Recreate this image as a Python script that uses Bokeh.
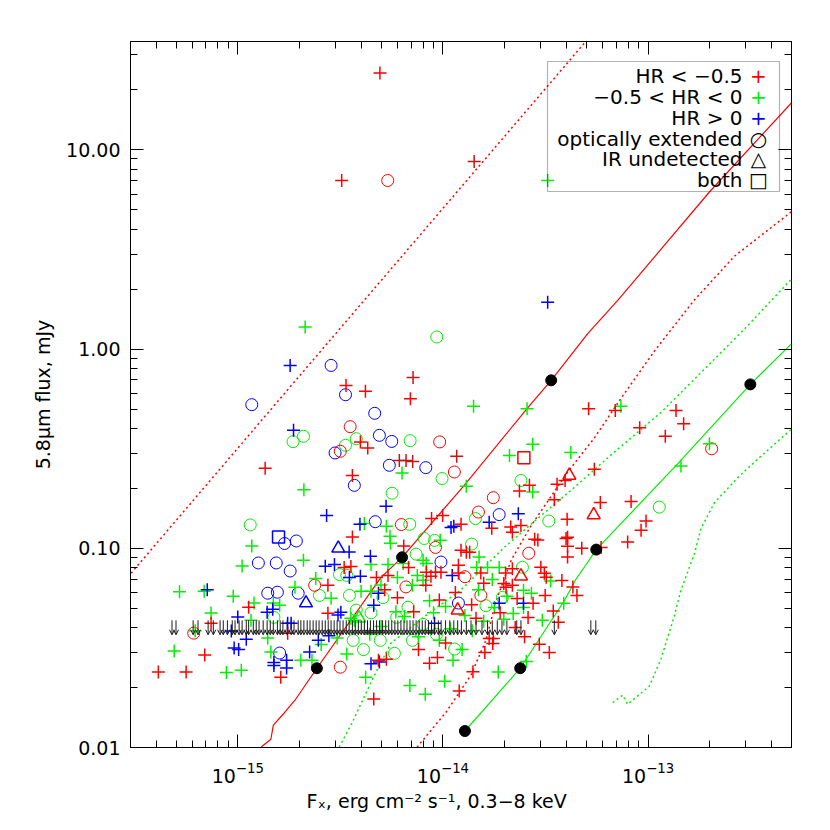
from bokeh.plotting import figure
from bokeh.models import (ColumnDataSource, LogAxis, FixedTicker, CustomJSTickFormatter,
                          LogTickFormatter, Label, BoxAnnotation, Title, Arrow, OpenHead)
from bokeh.embed import file_html
from bokeh.resources import INLINE
import numpy as np

FONT = "DejaVu Sans"
XU = 1e-15  # x values below are in units of 1e-15 erg cm^-2 s^-1

# ---------------- data (x in 1e-15 erg/cm2/s, y in mJy) ----------------
red_plus_x = [4.93, 3.21, 3.37, 4.19, 6.94, 1.36, 3.62, 3.96, 4.30, 3.62, 6.44, 26.4, 23.6, 36.0,
              39.4, 34.9, 54.7, 40.3, 58.5, 82.6, 97.7, 92.4, 79.5, 51.3, 69.2, 136.8, 149, 91.0,
              121.3, 40.5, 40.5, 40.5, 47.5, 59, 12.25, 8.8, 9.97, 17.3, 21.4, 21.8, 24.0, 28.0,
              29.0, 39.8, 21.8, 30.0, 31.2, 31.9, 19.8, 20.3, 15.3, 15.8, 11.9, 12.25, 13.0, 13.5,
              8.74, 9.2, 8.25, 6.8, 8.3, 9.78, 11.9, 20.2, 21.8, 3.3, 3.56, 4.74, 5.4, 2.75, 1.13,
              2.75, 0.741, 1.75, 0.69, 0.56, 0.41, 1.62, 4.85, 5.3, 9.4, 16.8, 17.5, 17.6, 12.0,
              4.6, 16.0, 14.0, 25.0, 27.5, 31.5, 34.5, 36.5, 26.0, 22.5, 29.5, 33.0, 45.0, 43.0,
              38.0, 11.5, 9.6, 13.8, 7.2, 6.0, 5.2, 10.3, 7.6, 8.6, 14.5, 19.0, 23.0]
red_plus_y = [24.3, 7.02, 0.657, 0.614, 0.564, 0.252, 0.232, 0.342, 0.319, 0.114, 0.1027, 0.207,
              0.194, 0.2095, 0.219, 0.1755, 0.249, 0.14, 0.1696, 0.172, 0.137, 0.1231, 0.1075,
              0.502, 0.492, 0.492, 0.422, 0.403, 0.365, 0.1136, 0.1023, 0.0905, 0.100, 0.101,
              0.132, 0.141, 0.146, 0.126, 0.128, 0.1205, 0.130, 0.111, 0.110, 0.112, 0.079,
              0.0803, 0.075, 0.0716, 0.0665, 0.0637, 0.0751, 0.0668, 0.0821, 0.0977, 0.0955,
              0.0955, 0.0723, 0.0758, 0.0652, 0.080, 0.0759, 0.0759, 0.0752, 0.0752, 0.0652,
              0.080, 0.081, 0.0714, 0.0731, 0.0652, 0.0506, 0.0472, 0.0421, 0.0375, 0.0291,
              0.0239, 0.0239, 0.0225, 0.0274, 0.0277, 0.0283, 0.0353, 0.0333, 0.0353, 0.0192,
              0.0175, 0.030, 0.024, 0.036, 0.053, 0.058, 0.0485, 0.0425, 0.045, 0.040, 0.033,
              0.030, 0.058, 0.064, 0.069, 0.060, 0.055, 0.052, 0.048, 0.0565, 0.062, 0.0335,
              0.031, 0.0265, 0.0445, 0.0475, 0.056]

dkred_plus_x = [14.2, 11.67, 7.15, 6.13, 6.61, 7.12]
dkred_plus_y = [8.75, 0.290, 0.72, 0.276, 0.276, 0.273]

green_plus_x = [32.4, 2.13, 73.7, 14.1, 25.7, 27.4, 21.1, 42, 6.32, 13.0, 27.4, 199, 144.6, 2.10,
                4.14, 5.3, 5.52, 5.55, 1.17, 2.09, 4.46, 5.4, 8.0, 8.3, 9.7, 15.0, 17.4, 6.4, 14.6,
                16.5, 18.8, 24.7, 24.7, 6.0, 7.5, 8.0, 3.99, 4.46, 4.99, 7.1, 0.686, 1.2, 1.49, 1.6,
                2.85, 1.16, 0.741, 3.56, 3.7, 1.4, 1.45, 2.03, 2.3, 1.04, 11.2, 18.6, 38.8, 8.6,
                10.3, 12.8, 13.9, 10.9, 9.0, 5.9, 6.5, 7.6, 9.6, 12.4, 15.8, 17.8, 20.5, 22.0, 27.0,
                30.5, 33.5, 3.05, 2.55, 3.4, 4.2, 6.9, 8.2, 10.2, 0.49, 0.52, 0.62, 0.95, 0.88, 1.9,
                2.4, 1.05, 14.9, 19.8, 5.0, 4.4, 25.5]
green_plus_y = [7.02, 1.29, 0.516, 0.516, 0.502, 0.333, 0.292, 0.303, 0.239, 0.205, 0.1916, 0.335,
                0.259, 0.197, 0.133, 0.129, 0.115, 0.106, 0.1027, 0.0871, 0.083, 0.083, 0.0871,
                0.084, 0.1096, 0.0905, 0.0698, 0.084, 0.080, 0.080, 0.080, 0.0616, 0.0504, 0.0714,
                0.0731, 0.0691, 0.0609, 0.0609, 0.0654, 0.0652, 0.0609, 0.0531, 0.0531, 0.0518,
                0.0561, 0.0435, 0.0474, 0.0446, 0.0435, 0.0355, 0.0302, 0.0274, 0.0274, 0.0244,
                0.0274, 0.0239, 0.0530, 0.0545, 0.051, 0.046, 0.0385, 0.0395, 0.0475, 0.048,
                0.0455, 0.036, 0.0345, 0.031, 0.043, 0.0505, 0.0575, 0.047, 0.0595, 0.0435, 0.0685,
                0.0355, 0.0329, 0.0295, 0.0225, 0.0205, 0.0185, 0.0215, 0.0305, 0.0605, 0.0385,
                0.0575, 0.0238, 0.0637, 0.0705, 0.0815, 0.062, 0.044, 0.0405, 0.037, 0.027]

blue_plus_x = [32.4, 1.80, 1.87, 5.28, 2.71, 3.94, 3.49, 2.67, 2.96, 4.43, 10.95, 11.3, 16.8, 23.3,
               11.1, 3.5, 3.96, 4.85, 4.6, 18.8, 24.7, 1.39, 1.48, 3.18, 3.08, 1.75, 1.82, 1.0, 9.1,
               0.93, 1.1, 0.96, 1.01, 2.24, 1.5, 1.5, 1.73, 1.73, 2.47, 2.78, 4.46, 4.9, 0.71]
blue_plus_y = [1.72, 0.828, 0.391, 0.1625, 0.146, 0.132, 0.0958, 0.0813, 0.0829, 0.0912, 0.127,
               0.129, 0.135, 0.149, 0.0731, 0.0714, 0.0723, 0.0595, 0.0518, 0.0530, 0.0530, 0.0478,
               0.0495, 0.0478, 0.0462, 0.0421, 0.0421, 0.0452, 0.0421, 0.0384, 0.0349, 0.0316,
               0.031, 0.0302, 0.0267, 0.0258, 0.0274, 0.0251, 0.0345, 0.0364, 0.0263, 0.0269,
               0.062]

red_circ_x = [5.38, 3.53, 3.16, 9.64, 11.37, 6.27, 17.6, 14.9, 26.2, 15.3, 2.37, 0.61, 3.16, 204,
              6.6, 12.8, 9.2]
red_circ_y = [7.02, 0.408, 0.307, 0.342, 0.2415, 0.1316, 0.1795, 0.152, 0.0944, 0.058, 0.0652,
              0.0375, 0.0253, 0.316, 0.064, 0.072, 0.101]

green_circ_x = [9.33, 2.09, 1.86, 3.78, 3.35, 6.92, 5.65, 1.15, 6.89, 9.9, 24.0, 32.8, 113.4, 14.4,
                13.8, 9.1, 24.4, 19.5, 3.13, 3.4, 2.5, 3.5, 3.78, 4.46, 6.75, 1.5, 5.1, 5.95, 8.0,
                7.1, 9.3, 11.4, 4.95, 3.65, 4.1, 5.8, 16.2, 7.4, 8.1]
green_circ_y = [1.15, 0.365, 0.343, 0.355, 0.329, 0.347, 0.189, 0.131, 0.132, 0.224, 0.219, 0.137,
                0.161, 0.141, 0.105, 0.1096, 0.0803, 0.0567, 0.0738, 0.0731, 0.058, 0.058, 0.0489,
                0.0474, 0.0506, 0.045, 0.0565, 0.045, 0.0415, 0.0345, 0.037, 0.0312, 0.0345,
                0.0345, 0.031, 0.0297, 0.0515, 0.0935, 0.112]

blue_circ_x = [2.85, 3.35, 1.17, 4.65, 4.90, 5.63, 2.98, 5.48, 8.25, 3.70, 4.68, 1.69, 1.93, 1.26,
               1.54, 1.80, 18.8, 9.78, 1.4, 1.56, 1.97, 11.9, 1.6]
blue_circ_y = [0.828, 0.590, 0.526, 0.476, 0.369, 0.344, 0.301, 0.261, 0.254, 0.207, 0.136,
               0.1057, 0.1088, 0.0844, 0.0844, 0.0769, 0.1476, 0.0853, 0.0595, 0.0602, 0.0595,
               0.0531, 0.0298]

blue_tri_x = [3.09, 2.15]
blue_tri_y = [0.10, 0.0531]
red_tri_x = [41.3, 54.3, 24.0, 11.8]
red_tri_y = [0.232, 0.147, 0.0724, 0.0489]
green_tri_x = [3.9]
green_tri_y = [0.0446]
blue_sq_x = [1.58]
blue_sq_y = [0.114]
red_sq_x = [24.8]
red_sq_y = [0.285]

# upper limits (arrows) at 0.04 mJy
arrow_x = [0.478, 0.50, 0.606, 0.64, 0.717, 0.76, 0.82, 0.85, 0.89, 0.94, 0.97, 1.015, 1.05, 1.10,
           1.13, 1.19, 1.23, 1.27, 1.33, 1.39, 1.44, 1.49, 1.56, 1.61, 1.66, 1.74, 1.82, 1.88, 1.97,
           2.03, 2.10, 2.18, 2.25, 2.33, 2.41, 2.49, 2.58, 2.67, 2.76, 2.85, 2.95, 3.05, 3.15, 3.26,
           3.38, 3.49, 3.62, 3.74, 3.87, 4.0, 4.14, 4.29, 4.43, 4.59, 4.75, 4.91, 5.08, 5.26, 5.44,
           5.63, 5.83, 6.03, 6.24, 6.46, 6.68, 6.91, 7.15, 7.40, 7.66, 7.93, 8.2, 8.5, 8.8, 9.1,
           9.5, 9.8, 10.3, 10.8, 11.3, 11.8, 12.3, 13.0, 13.7, 14.5, 15.5, 16.5, 17.4, 18.4, 19.4,
           20.5, 22.9, 24.0, 34.9, 52.6, 55.6]
arrow_top = 0.0435   # upper-limit arrows drawn from here ...
arrow_tip = 0.0368   # ... down to here

# model tracks
rdot1_x = [0.302, 1.98, 32.5, 50.0]
rdot1_y = [0.075, 0.725, 21.0, 35.3]
rsol_x = [1.30, 1.45, 1.49, 1.68, 1.90, 2.43, 4.99, 6.32, 12.7, 26.0, 33.7, 50.9, 71.3, 198, 502]
rsol_y = [0.01005, 0.0110, 0.01294, 0.01486, 0.01727, 0.0250, 0.0715, 0.0901, 0.207, 0.510, 0.697,
          1.20, 1.76, 6.11, 17.3]
rdot2_x = [7.48, 10.35, 13.7, 16.2, 18.2, 21.5, 26.9, 40.7, 54.5, 73.8, 107, 167, 263, 502]
rdot2_y = [0.01004, 0.01503, 0.0231, 0.0345, 0.0548, 0.0871, 0.130, 0.243, 0.356, 0.566, 0.973,
           1.75, 2.92, 4.91]
gdot1_x = [3.12, 3.56, 4.56, 5.58, 8.28, 12.2, 19.9, 30.1, 42.1, 68.2, 115.6, 203, 307, 502]
gdot1_y = [0.01005, 0.01294, 0.0223, 0.0334, 0.0461, 0.0616, 0.101, 0.146, 0.1955, 0.303, 0.481,
           0.857, 1.315, 2.26]
gdot2_x = [67.2, 75.2, 79.5, 101.4, 115.6, 134.3, 144.5, 168, 181, 210, 273, 355, 502]
gdot2_y = [0.01682, 0.0183, 0.01648, 0.0203, 0.0278, 0.0459, 0.0616, 0.0937, 0.1257, 0.1686,
           0.226, 0.290, 0.398]
gsol_x = [12.8, 23.8, 38.9, 44.5, 49.8, 55.9, 140, 315, 502]
gsol_y = [0.0121, 0.025, 0.0542, 0.0699, 0.0827, 0.0985, 0.267, 0.665, 1.068]
dots_x = [2.43, 6.32, 33.7, 12.8, 23.8, 55.9, 315]
dots_y = [0.025, 0.0901, 0.697, 0.0121, 0.025, 0.0985, 0.665]

x_major = [1e-15, 1e-14, 1e-13]
y_major = [0.01, 0.1, 1.0, 10.0]

# ---------------- figure ----------------
p = figure(width=822, height=822, x_axis_type="log", y_axis_type="log",
           x_range=(3.0e-16, 5.0e-13), y_range=(0.01, 35.0),
           output_backend="svg", toolbar_location=None,
           min_border_left=130, min_border_right=31, min_border_top=41, min_border_bottom=75)
p.grid.visible = False
p.outline_line_color = "black"
p.background_fill_color = "white"
p.border_fill_color = "white"

X = lambda a: np.array(a) * XU

RED, GREEN, BLUE = "#ff0000", "#00f000", "#0000ff"

# lines
p.line(X(rdot1_x), rdot1_y, line_color=RED, line_width=1.5, line_dash="2 3")
p.line(X(rsol_x), rsol_y, line_color=RED, line_width=1.2)
p.line(X(rdot2_x), rdot2_y, line_color=RED, line_width=1.5, line_dash="2 3")
p.line(X(gdot1_x), gdot1_y, line_color=GREEN, line_width=1.5, line_dash="2 3")
p.line(X(gdot2_x), gdot2_y, line_color=GREEN, line_width=1.5, line_dash="2 3")
p.line(X(gsol_x), gsol_y, line_color=GREEN, line_width=1.2)

# arrows (upper limits)
asrc = ColumnDataSource(dict(x=X(arrow_x), y0=[arrow_top] * len(arrow_x),
                             y1=[arrow_tip] * len(arrow_x)))
p.add_layout(Arrow(x_start="x", y_start="y0", x_end="x", y_end="y1", source=asrc,
                   line_color="#1a1a1a", line_width=1,
                   end=OpenHead(size=5, line_color="#1a1a1a", line_width=1)))

# scatter points
def pts(xs, ys, marker, color, size, lw):
    p.scatter(X(xs), ys, marker=marker, size=size, line_color=color, fill_color=None, line_width=lw)

pts(green_circ_x, green_circ_y, "circle", GREEN, 12, 1)
pts(blue_circ_x, blue_circ_y, "circle", BLUE, 12, 1)
pts(red_circ_x, red_circ_y, "circle", RED, 12, 1)
pts(green_plus_x, green_plus_y, "cross", GREEN, 13, 1.5)
pts(blue_plus_x, blue_plus_y, "cross", BLUE, 13, 1.5)
pts(red_plus_x, red_plus_y, "cross", RED, 13, 1.5)
pts(dkred_plus_x, dkred_plus_y, "cross", "#c01818", 13, 1.5)
pts(blue_tri_x, blue_tri_y, "triangle", BLUE, 13, 1.5)
pts(red_tri_x, red_tri_y, "triangle", RED, 13, 1.5)
pts(green_tri_x, green_tri_y, "triangle", GREEN, 13, 1.5)
pts(blue_sq_x, blue_sq_y, "square", BLUE, 12, 1.5)
pts(red_sq_x, red_sq_y, "square", RED, 12, 1.5)
p.scatter(X(dots_x), dots_y, marker="circle", size=11, fill_color="black", line_color="black")

# ---------------- axes ----------------
x_minor = [m * 10.0 ** e for e in (-16, -15, -14, -13) for m in range(2, 10)]
y_minor = [m * 10.0 ** e for e in (-2, -1, 0, 1) for m in range(2, 10)]


def style(ax, labels=True):
    ax.major_tick_in = 13
    ax.major_tick_out = 0
    ax.minor_tick_in = 7
    ax.minor_tick_out = 0
    ax.axis_line_color = "black"
    ax.major_tick_line_color = "black"
    ax.minor_tick_line_color = "black"
    ax.major_label_text_font = FONT
    ax.major_label_text_font_size = "19px"
    ax.major_label_text_color = "black"
    if not labels:
        ax.formatter = CustomJSTickFormatter(code="return '';")

xa = p.xaxis[0]
xa.ticker = FixedTicker(ticks=x_major, minor_ticks=x_minor)
xa.formatter = LogTickFormatter()
style(xa)
xa.major_label_standoff = 14

ya = p.yaxis[0]
ya.ticker = FixedTicker(ticks=y_major, minor_ticks=y_minor)
ya.formatter = CustomJSTickFormatter(code="return tick.toFixed(2);")
style(ya)
ya.major_label_standoff = 10
ya.axis_label = "5.8\u03bcm flux, mJy"
ya.axis_label_text_font = FONT
ya.axis_label_text_font_size = "19px"
ya.axis_label_text_font_style = "normal"
ya.axis_label_text_color = "black"
ya.axis_label_standoff = 9

top = LogAxis(ticker=FixedTicker(ticks=x_major, minor_ticks=x_minor))
style(top, labels=False)
p.add_layout(top, "above")
right = LogAxis(ticker=FixedTicker(ticks=y_major, minor_ticks=y_minor))
style(right, labels=False)
p.add_layout(right, "right")

# x-axis title
p.add_layout(Title(text="F\u2093, erg cm\u207b\u00b2 s\u207b\u00b9, 0.3\u22128 keV",
                   align="left", offset=176, standoff=4, text_font=FONT,
                   text_font_size="19px", text_font_style="normal", text_color="black"),
             "below")

# ---------------- legend ----------------
p.add_layout(BoxAnnotation(left=417, right=649, top=686, bottom=556,
                           left_units="screen", right_units="screen",
                           top_units="screen", bottom_units="screen",
                           fill_alpha=0, line_color="black", line_width=1.2))
leg_text = ["HR < \u22120.5", "\u22120.5 < HR < 0", "HR > 0", "optically extended",
            "IR undetected", "both"]
leg_sym = ["+", "+", "+", "\u25cb", "\u25b3", "\u25a1"]
leg_col = [RED, GREEN, BLUE, "black", "black", "black"]
row_y = [672, 651, 630, 609, 589, 568]
for t, s, c, yy in zip(leg_text, leg_sym, leg_col, row_y):
    p.add_layout(Label(x=612, y=yy, x_units="screen", y_units="screen", text=t,
                       text_align="right", text_baseline="middle", text_font=FONT,
                       text_font_size="20px", text_color="black"))
    p.add_layout(Label(x=628, y=yy, x_units="screen", y_units="screen", text=s,
                       text_align="center", text_baseline="middle", text_font=FONT,
                       text_font_size="20px", text_color=c))

open("out.html", "w").write(file_html(p, INLINE))
